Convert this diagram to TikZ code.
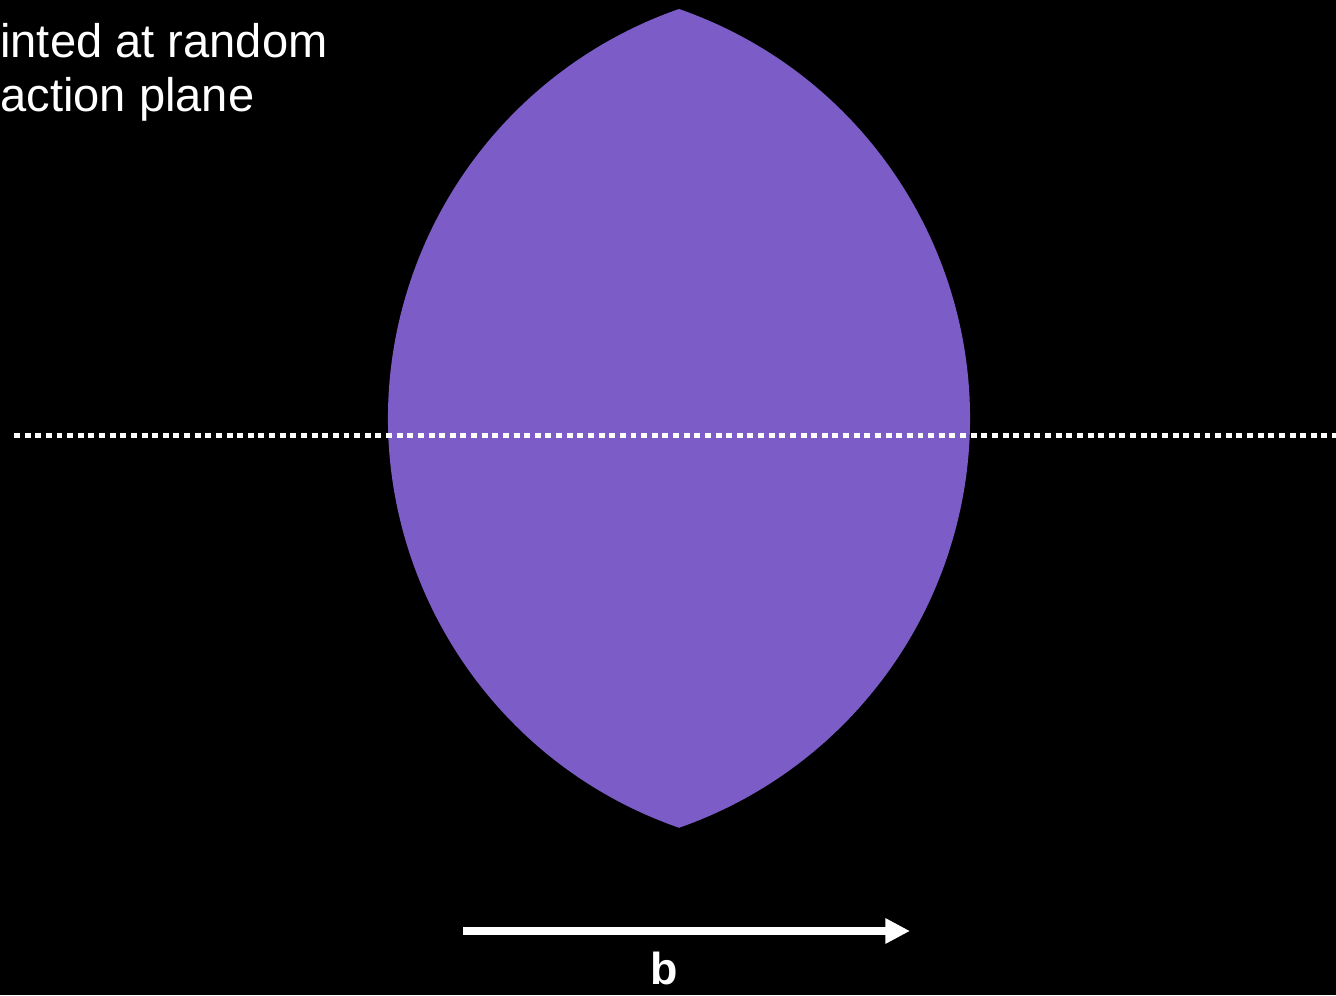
\documentclass[tikz,border=0pt]{standalone}
\usepackage{fontspec}
\setmainfont{Liberation Sans}
\usetikzlibrary{arrows.meta,positioning}
\definecolor{lenspurple}{RGB}{124,93,200}

\tikzset{
  caption/.style={white, anchor=base west, inner sep=0pt, font=\fontsize{26.8}{30.6}\selectfont},
  plane/.style={white, line width=2.8pt, dash pattern=on 3.4pt off 2.65pt},
  vecarrow/.style={white, line width=4pt, -{Triangle[length=14pt, width=13.6pt]}}
}

\begin{document}
\begin{tikzpicture}[x=0.02cm, y=0.02cm]
        % Background
        \fill[black] (0,0) rectangle (1336,995);
        \useasboundingbox (0,0) rectangle (1336,995);

        % Lens (two circular arcs)
        \fill[lenspurple] (679,986)
            arc[start angle=70.8, end angle=-70.8, radius=8.672cm]
            arc[start angle=250.8, end angle=109.2, radius=8.672cm] -- cycle;

        % Reaction plane
        \coordinate (pl) at (14,559.5);
        \coordinate (pr) at (1336,559.5);
        \draw[plane] (pl) -- (pr);

        % Caption, cut off at the left edge
        \node[caption] (line1) at (0,937) {inted at random};
        \node[caption] (line2) at (0,883) {action plane};

        % Impact parameter
        \coordinate (btail) at (463,64);
        \coordinate (btip) at (910,64);
        \draw[vecarrow] (btail) -- (btip);
        \node[caption, anchor=base, font=\fontsize{25.5}{30}\selectfont\bfseries] (b) at (664,11) {b};
\end{tikzpicture}
\end{document}
